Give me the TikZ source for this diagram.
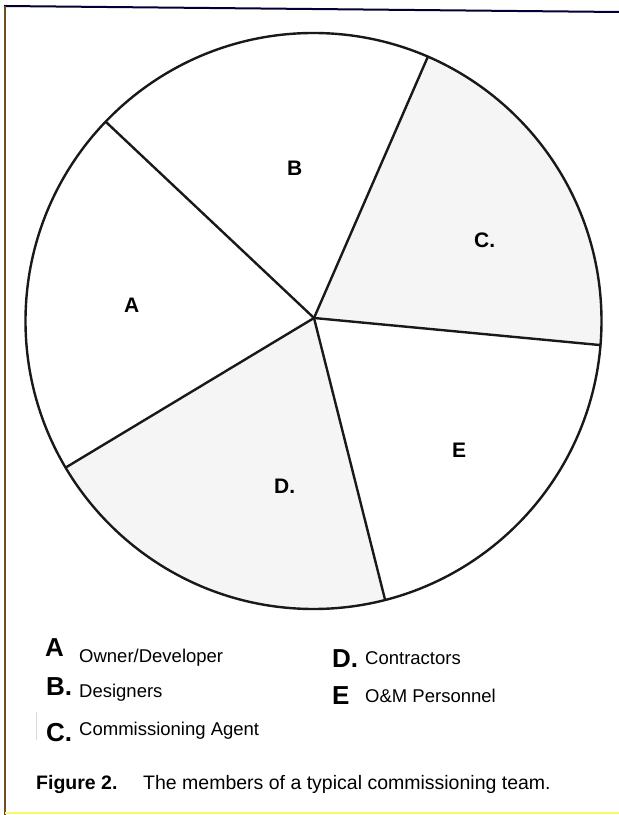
\documentclass[tikz,border=0pt]{standalone}
\usepackage{fontspec}
\setmainfont{Liberation Sans}
\usetikzlibrary{calc}
\begin{document}
\begin{tikzpicture}[x=1pt,y=1pt,
  piecol/.style={line width=2.4pt, draw=black!90},
  shade/.style={fill=black!4},
  pielab/.style={anchor=base west, inner sep=0pt, font=\fontsize{21}{24}\selectfont\bfseries},
  keylet/.style={anchor=base west, inner sep=0pt, font=\fontsize{26}{30}\selectfont\bfseries},
  keytxt/.style={anchor=base west, inner sep=0pt, font=\fontsize{18.5}{22}\selectfont},
  captxt/.style={anchor=base west, inner sep=0pt, font=\fontsize{19.5}{23}\selectfont}]
\useasboundingbox (0,0) rectangle (619,815);
% frame
\draw[line width=2pt, draw=black!80!blue] (4,809) -- (619,803);
\draw[line width=1.2pt, draw=brown!60!black] (5,809) -- (5,0);
\draw[line width=2pt, draw=yellow!60] (5,2) -- (619,2);
\draw[line width=0.8pt, draw=gray!30] (36,103) -- (36,75);
% pie geometry
\coordinate (c0) at (313.5,494);
\coordinate (hub) at (314,497);
\coordinate (pAB) at ($(c0)+(136.2:288)$);
\coordinate (pBC) at ($(c0)+(66.6:288)$);
\coordinate (pCE) at ($(c0)+(-4.8:288)$);
\coordinate (pED) at ($(c0)+(-75.6:288)$);
\coordinate (pDA) at ($(c0)+(210.6:288)$);
% shaded sectors
\fill[shade] (hub) -- (pCE) arc[start angle=-4.8, end angle=66.6, radius=288] -- cycle;
\fill[shade] (hub) -- (pDA) arc[start angle=210.6, end angle=284.4, radius=288] -- cycle;
% circle and spokes
\draw[piecol] (c0) circle[radius=288];
\draw[piecol] (hub) -- (pAB);
\draw[piecol] (hub) -- (pBC);
\draw[piecol] (hub) -- (pCE);
\draw[piecol] (hub) -- (pED);
\draw[piecol] (hub) -- (pDA);
% pie labels
\node[pielab] (la) at (124,502) {A};
\node[pielab] (lb) at (287,639) {B};
\node[pielab] (lc) at (474,567) {C.};
\node[pielab] (ld) at (274,321) {D.};
\node[pielab] (le) at (452,357) {E};
% legend
\node[keylet] (ka) at (45,158) {A};
\node[keylet] (kb) at (46,119) {B.};
\node[keylet] (kc) at (46,73) {C.};
\node[keylet] (kd) at (332,147) {D.};
\node[keylet] (ke) at (332,110) {E};
\node[keytxt] (ta) at (79,152) {Owner/Developer};
\node[keytxt] (tb) at (79,117) {Designers};
\node[keytxt] (tc) at (79,79) {Commissioning Agent};
\node[keytxt] (td) at (365,150) {Contractors};
\node[keytxt] (te) at (365,112) {O\&M Personnel};
% caption
\node[captxt, font=\fontsize{19.5}{23}\selectfont\bfseries] (fig) at (36,25) {Figure 2.};
\node[captxt] (cap) at (143,25) {The members of a typical commissioning team.};
\end{tikzpicture}
\end{document}
